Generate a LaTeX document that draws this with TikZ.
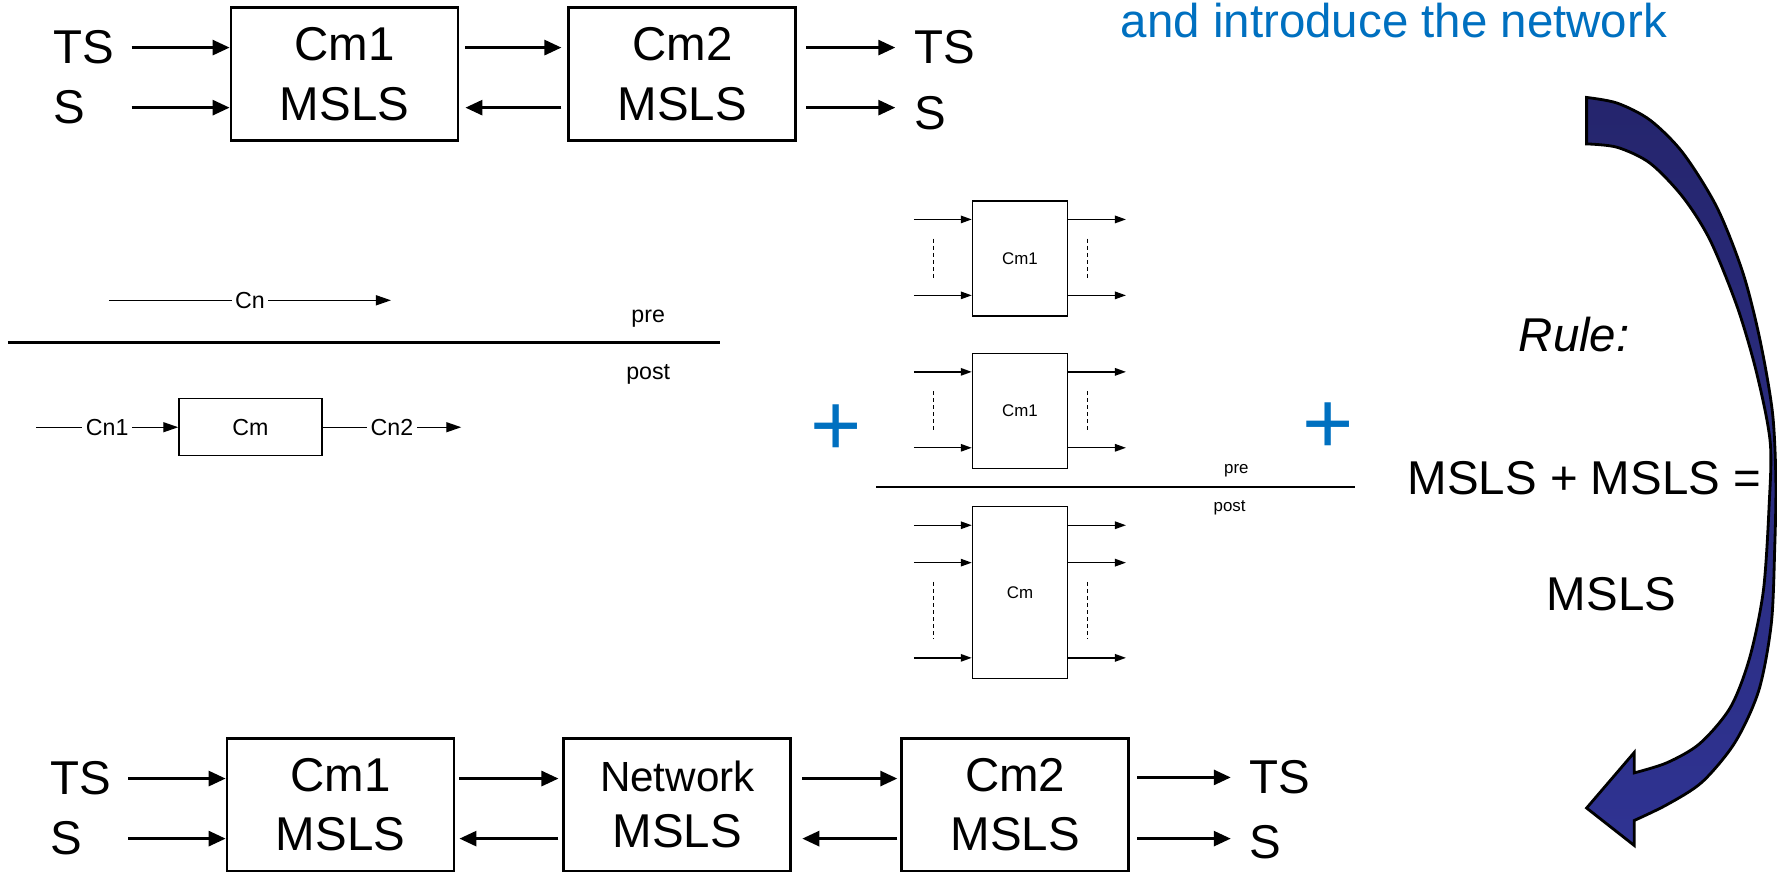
\documentclass[tikz,border=0pt]{standalone}
\usepackage{fontspec}
\setmainfont{Liberation Sans}
\usetikzlibrary{positioning, arrows.meta, calc}
\definecolor{myblue}{HTML}{0070C0}
\definecolor{arrowtop}{HTML}{25256D}
\definecolor{arrowbot}{HTML}{2F3392}
\newcommand{\bigfont}{\fontsize{13.5}{17}\selectfont}
\newcommand{\smallfont}{\fontsize{6.6}{8}\selectfont}
\newcommand{\tinyfont}{\fontsize{4.8}{6}\selectfont}

\begin{document}
\begin{tikzpicture}[
    x=0.11333mm, y=-0.11333mm,
    node distance=11mm,
    font=\bigfont,
    msls/.style={
      rectangle, draw, line width=0.8pt, align=center,
      minimum width=22.7mm, minimum height=13.3mm,
      inner sep=0pt
    },
    inlbl/.style={anchor=west, inner sep=0pt, text width=7.7mm, align=left},
    outlbl/.style={anchor=west, inner xsep=1.8mm, inner ysep=0pt},
    cmbox/.style={
      rectangle, draw, line width=0.4pt,
      minimum width=14.3mm, minimum height=5.7mm,
      inner sep=0pt, font=\smallfont
    },
    stackbox/.style={
      rectangle, draw, line width=0.4pt,
      minimum width=9.5mm, inner sep=0pt, font=\tinyfont
    },
    sig/.style={-{Triangle[length=1.7mm, width=1.5mm]}, line width=0.8pt},
    flow/.style={-{Triangle[length=1.5mm, width=1mm]}, line width=0.4pt},
    port/.style={-{Triangle[length=1.1mm, width=0.75mm]}, line width=0.4pt},
    etc/.style={dashed, dash pattern=on 1.2pt off 0.8pt, line width=0.3pt},
    plus/.style={text=myblue, font=\fontsize{25}{25}\selectfont}
  ]
  \useasboundingbox (0,0) rectangle (1568,769);

  % Row 1: two components
  \node[msls] (cm1a) at (304,65.5) {Cm1\\MSLS};
  \node[msls, right=of cm1a, xshift=-0.2mm] (cm2a) {Cm2\\MSLS};
  \node[inlbl] (tsA) at (47,42) {TS};
  \node[inlbl] (sA) at (47,95) {S};
  \node[outlbl] (tsB) at (790,42) {TS};
  \node[outlbl] (sB) at (790,100) {S};
  \draw[sig] (tsA.east) -- (tsA.east -| cm1a.west);
  \draw[sig] (sA.east) -- (sA.east -| cm1a.west);
  \draw[sig, shorten <=0.6mm, shorten >=0.6mm] (tsA.east -| cm1a.east) -- (tsA.east -| cm2a.west);
  \draw[sig, shorten <=0.6mm, shorten >=0.6mm] (sA.east -| cm2a.west) -- (sA.east -| cm1a.east);
  \draw[sig, shorten <=0.9mm] (tsA.east -| cm2a.east) -- (tsB.west);
  \draw[sig, shorten <=0.9mm] (sA.east -| cm2a.east) -- (tsB.west |- sA.east);

  % Title
  \node[text=myblue, anchor=base] (title) at (1230,33) {and introduce the network};

  % Rule: pre / post
  \coordinate (cnS) at (96,265);
  \coordinate (cnE) at (345,265);
  \draw[flow] (cnS) -- node[fill=white, inner xsep=1pt, inner ysep=0pt, font=\smallfont] {Cn} (cnE);
  \coordinate (ruleL) at (7,302);
  \coordinate (ruleR) at (635,302);
  \draw[line width=0.9pt] (ruleL) -- (ruleR);
  \node[font=\smallfont] (preA) at (572,281) {pre};
  \node[font=\smallfont] (postA) at (572,330) {post};
  \node[cmbox] (cm) at (221,377) {Cm};
  \coordinate (cn1S) at (32,377);
  \coordinate (cn2E) at (407,377);
  \draw[flow] (cn1S) -- node[fill=white, inner xsep=1pt, inner ysep=0pt, font=\smallfont] {Cn1} (cm.west);
  \draw[flow] (cm.east) -- node[fill=white, inner xsep=1pt, inner ysep=0pt, font=\smallfont] {Cn2} (cn2E);

  \node[plus] (plusA) at (738,380) {+};
  \node[plus] (plusB) at (1172,378) {+};

  % Rule: stacked components
  \node[stackbox, minimum height=11.5mm] (sa) at (900,228) {Cm1};
  \node[stackbox, minimum height=11.5mm] (sb) at (900,362.5) {Cm1};
  \node[stackbox, minimum height=17.2mm] (sc) at (900,523) {Cm};
  \foreach \b in {sa,sb}{
    \foreach \dy in {17,84}{
      \draw[port] ($(\b.north west)+(-51,\dy)$) -- ++(51,0);
      \draw[port] ($(\b.north east)+(0,\dy)$) -- ++(51,0);
    }
    \draw[etc] ($(\b.north west)+(-34,34)$) -- ++(0,35);
    \draw[etc] ($(\b.north east)+(17,34)$) -- ++(0,35);
  }
  \foreach \dy in {17,50,134}{
    \draw[port] ($(sc.north west)+(-51,\dy)$) -- ++(51,0);
    \draw[port] ($(sc.north east)+(0,\dy)$) -- ++(51,0);
  }
  \draw[etc] ($(sc.north west)+(-34,67)$) -- ++(0,50);
  \draw[etc] ($(sc.north east)+(17,67)$) -- ++(0,50);
  \coordinate (ruleL2) at (773,430);
  \coordinate (ruleR2) at (1196,430);
  \draw[line width=0.5pt] (ruleL2) -- (ruleR2);
  \node[font=\tinyfont] (preB) at (1091,415) {pre};
  \node[font=\tinyfont] (postB) at (1085,448) {post};

  % Rule text
  \node[font=\bigfont\itshape] (rule) at (1389,295) {Rule:};
  \node (sum) at (1398,422) {MSLS + MSLS =};
  \node (res) at (1422,524) {MSLS};

  % Big curved arrow
  \draw[line width=0.8pt, top color=arrowtop, bottom color=arrowbot]
    plot[smooth] coordinates {(1400,86) (1427,91) (1456,106) (1485,135) (1515,183)
      (1538,241) (1553,300) (1564,364) (1567,424) (1566,483) (1563,550) (1552,609)
      (1531,655) (1502,690) (1471,710) (1442,724)}
    -- (1442,746) -- (1400,713) -- (1442,664)
    -- plot[smooth] coordinates {(1442,682) (1471,673) (1500,656) (1527,624)
      (1544,580) (1556,521) (1561,447) (1562,390) (1550,329) (1533,271) (1509,212)
      (1485,174) (1456,144) (1427,130) (1400,127)}
    -- cycle;

  % Row 2: components with network
  \node[msls] (cm1b) at (300.5,710) {Cm1\\MSLS};
  \node[msls, right=of cm1b, xshift=-0.3mm] (net) {{\fontsize{12}{16}\selectfont Network}\\[-1pt]MSLS};
  \node[msls, right=of net, xshift=-0.2mm] (cm2b) {Cm2\\MSLS};
  \node[inlbl] (tsC) at (44,687) {TS};
  \node[inlbl] (sC) at (44,740) {S};
  \node[outlbl] (tsD) at (1086,686) {TS};
  \node[outlbl] (sD) at (1086,743) {S};
  \draw[sig] (tsC.east) -- (tsC.east -| cm1b.west);
  \draw[sig] (sC.east) -- (sC.east -| cm1b.west);
  \draw[sig, shorten <=0.4mm, shorten >=0.4mm] (tsC.east -| cm1b.east) -- (tsC.east -| net.west);
  \draw[sig, shorten <=0.4mm, shorten >=0.4mm] (sC.east -| net.west) -- (sC.east -| cm1b.east);
  \draw[sig, shorten <=1mm, shorten >=0.3mm] (tsC.east -| net.east) -- (tsC.east -| cm2b.west);
  \draw[sig, shorten <=0.3mm, shorten >=1mm] (sC.east -| cm2b.west) -- (sC.east -| net.east);
  \draw[sig, shorten <=0.7mm] (tsD.west -| cm2b.east) -- (tsD.west);
  \draw[sig, shorten <=0.7mm] (sC.east -| cm2b.east) -- (tsD.west |- sC.east);
\end{tikzpicture}
\end{document}
